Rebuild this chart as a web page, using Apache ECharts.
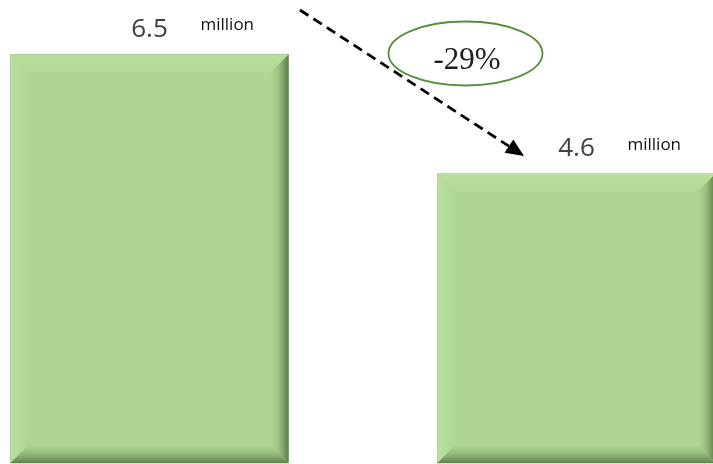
<!DOCTYPE html>
<html>
<head>
<meta charset="utf-8">
<script src="https://cdn.jsdelivr.net/npm/echarts@6/dist/echarts.min.js"></script>
<style>
  html, body { margin: 0; padding: 0; background: #fff; }
  #chart { width: 713px; height: 464px; }
</style>
</head>
<body>
<div id="chart"></div>
<script>
// data
const positions = [0, 1];
const values = [6.5, 4.6];
const unit = 'million';
const changeLabel = '-29%';

const chart = echarts.init(document.querySelector('#chart'));

const BAR_W = 278;
const BEVEL = 18;
const FILL = '#aed692';

function renderBar(params, api) {
  const idx = api.value(0);
  const v = api.value(1);
  const top = api.coord([idx, v]);
  const base = api.coord([idx, 0]);
  const cx = top[0];
  const x0 = cx - BAR_W / 2, x1 = cx + BAR_W / 2;
  const y0 = top[1], y1 = base[1];
  const b = BEVEL;
  const G = echarts.graphic.LinearGradient;
  return {
    type: 'group',
    children: [
      {
        type: 'rect',
        shape: { x: x0, y: y0, width: BAR_W, height: y1 - y0 },
        style: { fill: FILL, stroke: 'rgba(150,160,145,0.7)', lineWidth: 1 }
      },
      {
        type: 'polygon',
        shape: { points: [[x0, y0], [x1, y0], [x1 - b, y0 + b], [x0 + b, y0 + b]] },
        style: { fill: new G(0, 0, 0, 1, [{ offset: 0, color: '#b7e09c' }, { offset: 1, color: '#b0d995' }]) }
      },
      {
        type: 'polygon',
        shape: { points: [[x0, y0], [x0 + b, y0 + b], [x0 + b, y1 - b], [x0, y1]] },
        style: { fill: new G(0, 0, 1, 0, [{ offset: 0, color: '#b8e19e' }, { offset: 1, color: FILL }]) }
      },
      {
        type: 'polygon',
        shape: { points: [[x1, y0], [x1, y1], [x1 - b, y1 - b], [x1 - b, y0 + b]] },
        style: { fill: new G(0, 0, 1, 0, [{ offset: 0, color: FILL }, { offset: 0.45, color: '#9cc282' }, { offset: 1, color: '#5e7d4c' }]) }
      },
      {
        type: 'polygon',
        shape: { points: [[x0, y1], [x1, y1], [x1 - b, y1 - b], [x0 + b, y1 - b]] },
        style: { fill: new G(0, 0, 0, 1, [{ offset: 0, color: FILL }, { offset: 0.5, color: '#93b87b' }, { offset: 1, color: '#62814f' }]) }
      },
      {
        type: 'text',
        x: cx, y: y0 - 25,
        style: {
          text: String(v), fill: '#404040', fontSize: 26, fontFamily: 'Open Sans',
          align: 'center', verticalAlign: 'middle'
        }
      },
      {
        type: 'text',
        x: cx + 51, y: y0 - 29,
        style: {
          text: unit, fill: '#111', fontSize: 17, fontFamily: 'Open Sans',
          align: 'left', verticalAlign: 'middle'
        }
      }
    ]
  };
}

// arrow geometry
const tail = [300, 10], tip = [524, 156];
const dx = tip[0] - tail[0], dy = tip[1] - tail[1];
const len = Math.sqrt(dx * dx + dy * dy);
const ux = dx / len, uy = dy / len;
const headL = 18, headW = 8;
const hb = [tip[0] - headL * ux, tip[1] - headL * uy];

const option = {
  animation: false,
  grid: { left: 0, right: 0, top: 23, bottom: 1 },
  xAxis: { type: 'value', min: -0.3501, max: 1.3197, show: false },
  yAxis: { type: 'value', min: 0, max: 7, show: false },
  series: [{
    type: 'custom',
    renderItem: renderBar,
    data: positions.map((p, i) => [p, values[i]]),
    clip: false
  }],
  graphic: [
    {
      type: 'line',
      shape: { x1: tail[0], y1: tail[1], x2: hb[0], y2: hb[1] },
      style: { stroke: '#000', lineWidth: 2.8, lineDash: [10, 6] },
      z: 10
    },
    {
      type: 'polygon',
      shape: {
        points: [
          tip,
          [hb[0] - headW * uy, hb[1] + headW * ux],
          [hb[0] + headW * uy, hb[1] - headW * ux]
        ]
      },
      style: { fill: '#000' },
      z: 10
    },
    {
      type: 'ellipse',
      shape: { cx: 465.5, cy: 53.5, rx: 77, ry: 32 },
      style: { fill: null, stroke: '#5b8c3a', lineWidth: 1.8 },
      z: 10
    },
    {
      type: 'text',
      x: 467, y: 61,
      style: {
        text: changeLabel, fill: '#222', fontSize: 31, fontFamily: 'Liberation Serif',
        align: 'center', verticalAlign: 'middle'
      },
      z: 10
    }
  ]
};
chart.setOption(option);
</script>
</body>
</html>
